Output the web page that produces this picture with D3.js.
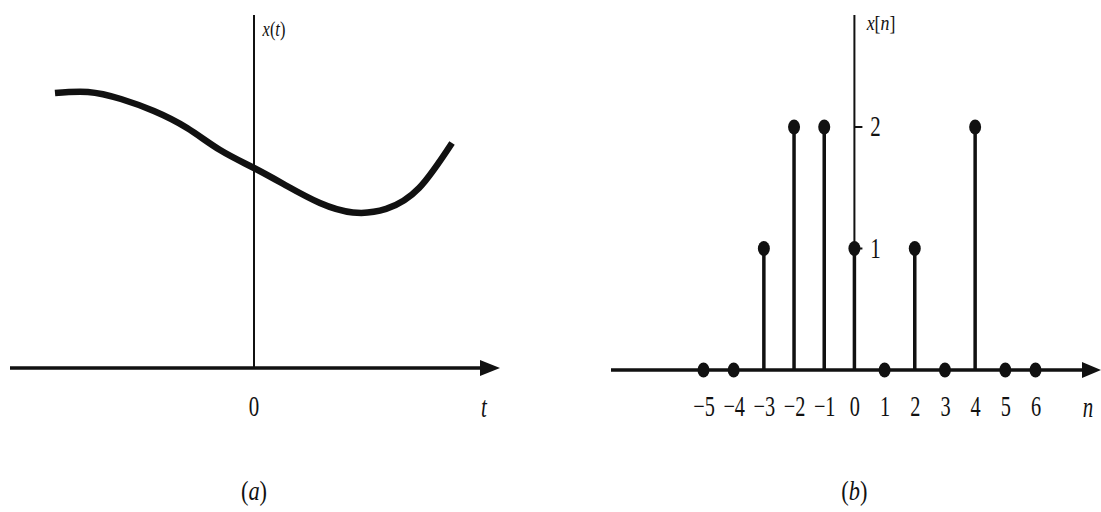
<!DOCTYPE html>
<html>
<head>
<meta charset="utf-8">
<script src="https://cdn.jsdelivr.net/npm/d3@7"></script>
<style>
  html, body { margin: 0; padding: 0; background: #fff; }
  svg { display: block; }
  text { font-family: "Liberation Serif", "Times New Roman", Times, serif; fill: #111; }
</style>
</head>
<body>
<svg id="chart" width="1101" height="512"></svg>
<script>
// (a) continuous-time signal x(t): evenly spaced samples of the curve
const contT = [-0.809, -0.675, -0.541, -0.407, -0.272, -0.138, 0, 0.134, 0.268, 0.402, 0.537, 0.671, 0.805];
const contX = [2.263, 2.272, 2.214, 2.115, 1.975, 1.794, 1.646, 1.498, 1.358, 1.280, 1.309, 1.481, 1.852];

// (b) discrete-time signal x[n]
const nValues = [-5, -4, -3, -2, -1, 0, 1, 2, 3, 4, 5, 6];
const xnValues = [0, 0, 1, 2, 2, 1, 0, 1, 0, 2, 0, 0];
const nTickLabels = ["\u22125", "\u22124", "\u22123", "\u22122", "\u22121", "0", "1", "2", "3", "4", "5", "6"];
const yTickValues = [1, 2];

const svg = d3.select("#chart");
const ink = "#111";

// Narrow, tall serif label made of [text, italic] parts
function label(g, x, y, parts, size, sx) {
  const t = g.append("text")
    .attr("transform", `translate(${x},${y}) scale(${sx},1)`)
    .attr("text-anchor", "middle")
    .attr("font-size", size);
  parts.forEach(([s, it]) => t.append("tspan").attr("font-style", it ? "italic" : "normal").text(s));
  return t;
}

// ---------- panel (a) ----------
const tScale = d3.scaleLinear().domain([-1, 1]).range([8, 500]);
const aY = d3.scaleLinear().domain([0, 2]).range([368, 125]);

const gA = svg.append("g");
gA.append("line")
  .attr("x1", tScale(-1) + 2).attr("x2", 484)
  .attr("y1", aY(0)).attr("y2", aY(0))
  .attr("stroke", ink).attr("stroke-width", 3.5);
gA.append("path")
  .attr("d", `M${tScale(1)},${aY(0)} L480,${aY(0) - 8} L480,${aY(0) + 8} Z`)
  .attr("fill", ink);
gA.append("line")
  .attr("x1", tScale(0)).attr("x2", tScale(0))
  .attr("y1", 15).attr("y2", aY(0))
  .attr("stroke", ink).attr("stroke-width", 2);

const lineA = d3.line()
  .x((d, i) => tScale(contT[i]))
  .y((d, i) => aY(contX[i]))
  .curve(d3.curveNatural);
gA.append("path")
  .datum(contT)
  .attr("d", lineA)
  .attr("fill", "none")
  .attr("stroke", ink)
  .attr("stroke-width", 6.5);

label(gA, tScale(0), 416, [["0", false]], 29, 0.72);
label(gA, 484, 417, [["t", true]], 29, 0.72);
label(gA, 274, 36, [["x", true], ["(", false], ["t", true], [")", false]], 20, 0.82);
label(gA, tScale(0), 500, [["(", false], ["a", true], [")", false]], 28, 0.8);

// ---------- panel (b) ----------
const nScale = d3.scaleLinear().domain([-5, 6]).range([703.5, 1035.5]);
const bY = d3.scaleLinear().domain([0, 2]).range([370, 127]);

const gB = svg.append("g");
gB.append("line")
  .attr("x1", 611).attr("x2", 1086)
  .attr("y1", bY(0)).attr("y2", bY(0))
  .attr("stroke", ink).attr("stroke-width", 3.5);
gB.append("path")
  .attr("d", `M1101,${bY(0)} L1082,${bY(0) - 8} L1082,${bY(0) + 8} Z`)
  .attr("fill", ink);
gB.append("line")
  .attr("x1", nScale(0)).attr("x2", nScale(0))
  .attr("y1", 15).attr("y2", bY(0))
  .attr("stroke", ink).attr("stroke-width", 2);

// y ticks and labels
gB.selectAll(".ytick").data(yTickValues).enter().append("line")
  .attr("x1", nScale(0)).attr("x2", nScale(0) + 8)
  .attr("y1", d => bY(d)).attr("y2", d => bY(d))
  .attr("stroke", ink).attr("stroke-width", 2);
yTickValues.forEach(v => label(gB, nScale(0) + 21, bY(v) + 9, [[String(v), false]], 29, 0.72));

// n tick labels via axis
const axisB = d3.axisBottom(nScale)
  .tickValues(nValues)
  .tickSize(0)
  .tickPadding(0)
  .tickFormat((d, i) => nTickLabels[i]);
const axG = gB.append("g").attr("transform", "translate(0, 416)").call(axisB);
axG.select(".domain").remove();
axG.attr("font-family", null);
axG.selectAll("text")
  .attr("font-size", 29)
  .attr("fill", ink)
  .attr("y", 0)
  .attr("dy", 0)
  .attr("transform", "scale(0.7,1)");

// stems
const stems = gB.selectAll(".stem").data(nValues.map((n, i) => ({ n, v: xnValues[i] })))
  .enter();
stems.filter(d => d.v !== 0).append("line")
  .attr("x1", d => nScale(d.n)).attr("x2", d => nScale(d.n))
  .attr("y1", bY(0)).attr("y2", d => bY(d.v))
  .attr("stroke", ink).attr("stroke-width", 3.5);
stems.append("ellipse")
  .attr("cx", d => nScale(d.n)).attr("cy", d => bY(d.v))
  .attr("rx", 6).attr("ry", 7.5)
  .attr("fill", ink);

label(gB, 1088, 417, [["n", true]], 29, 0.72);
label(gB, 881, 30, [["x", true], ["[", false], ["n", true], ["]", false]], 21, 0.85);
label(gB, nScale(0), 500, [["(", false], ["b", true], [")", false]], 28, 0.8);
</script>
</body>
</html>
